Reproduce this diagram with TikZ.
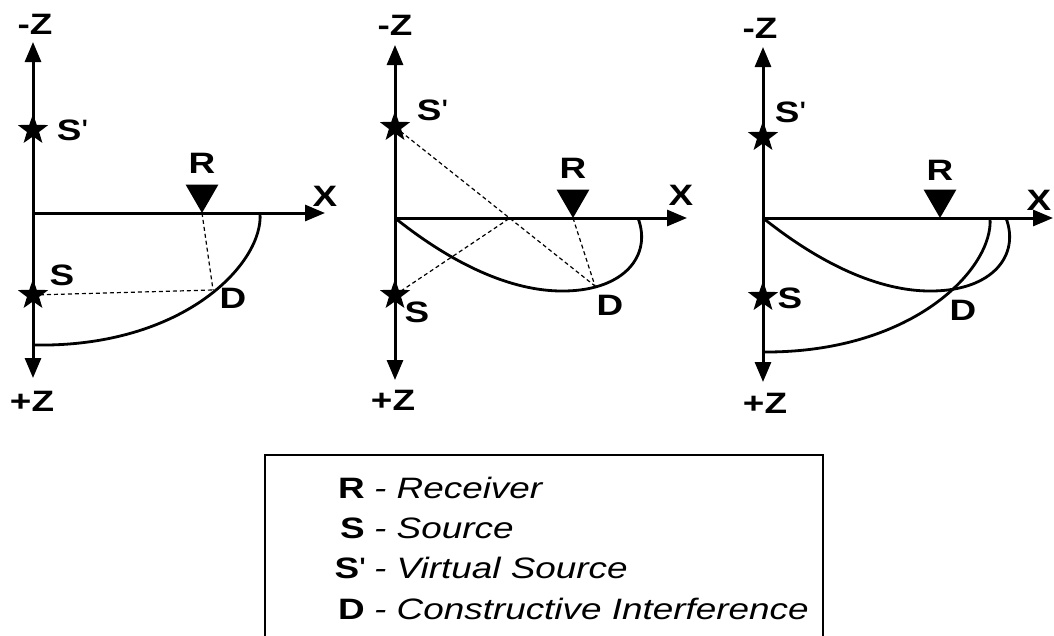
\documentclass[tikz,border=0pt]{standalone}
\usepackage{fontspec}
\newfontfamily\lblfont{Liberation Sans}[FakeStretch=1.25]
\newcommand\lblsize{\fontsize{29.5pt}{31pt}\selectfont}
\usetikzlibrary{arrows.meta,shapes.geometric}
\tikzset{
  >={Triangle[length=20pt,width=16pt]},
  daxis/.style={line width=3pt},
  dwave/.style={line width=2.8pt},
  dray/.style={line width=1.2pt, dash pattern=on 4pt off 3pt},
  dlbl/.style={font=\lblfont\lblsize\bfseries, inner sep=0pt},
  dstar/.style={star, star points=5, star point ratio=2.5, fill=black,
                inner sep=0pt, minimum size=32pt},
  drecv/.style={regular polygon, regular polygon sides=3, shape border rotate=180,
                fill=black, inner sep=0pt, outer sep=0pt, minimum size=38pt, anchor=south},
  dlegsym/.style={font=\lblfont\lblsize\bfseries, inner sep=0pt, anchor=base east},
  dlegtxt/.style={font=\lblfont\lblsize\itshape, inner sep=0pt, anchor=base west},
}

\begin{document}
\begin{tikzpicture}[x=1pt,y=-1pt]
  \useasboundingbox (0,0) rectangle (1054,635);

  % axes: origin, top tip, bottom tip, x tip
  \foreach \p/\ox/\oy/\zt/\zb/\xt in {1/33/213/42/378/325, 2/395/218/45/380/687, 3/763/218/47/382/1053}{
    \coordinate (o\p) at (\ox,\oy);
    \coordinate (zt\p) at (\ox,\zt);
    \coordinate (zb\p) at (\ox,\zb);
    \coordinate (xt\p) at (\xt,\oy);
    \draw[daxis, <->] (zt\p) -- (zb\p);
    \draw[daxis, ->] (o\p) -- (xt\p);
  }

  % panel 1
  \node[dstar] (sv1) at (33,130) {};
  \node[dstar] (s1) at (33,295) {};
  \node[drecv] (r1) at (202,213) {};
  \coordinate (d1) at (213,290);
  \draw[dwave] (260,213) .. controls (264,262) and (185,348) .. (33,345);
  \draw[dray] (r1.south) -- (d1);
  \draw[dray] (s1.center) -- (d1);
  \node[dlbl] (mz1) at (35,24) {-Z};
  \node[dlbl] (pz1) at (32,401) {+Z};
  \node[dlbl] (x1) at (325,196) {X};
  \node[dlbl] (rl1) at (202,163) {R};
  \node[dlbl] (svl1) at (72,130) {S\mdseries\textquotesingle};
  \node[dlbl] (sl1) at (62,275) {S};
  \node[dlbl] (dl1) at (233,298) {D};

  % panel 2
  \node[dstar] (sv2) at (395,127) {};
  \node[dstar] (s2) at (395,295) {};
  \node[drecv] (r2) at (573,218) {};
  \coordinate (d2) at (595,286);
  \coordinate (m2) at (510,218);
  \draw[dwave] (o2) .. controls (450,262) and (510,292) .. (565,291)
                    .. controls (625,290) and (652,255) .. (638,218);
  \draw[dray] (sv2.center) -- (d2);
  \draw[dray] (s2.center) -- (m2);
  \draw[dray] (r2.south) -- (d2);
  \node[dlbl] (mz2) at (395,25) {-Z};
  \node[dlbl] (pz2) at (393,400) {+Z};
  \node[dlbl] (x2) at (681,195) {X};
  \node[dlbl] (rl2) at (573,168) {R};
  \node[dlbl] (svl2) at (432,110) {S\mdseries\textquotesingle};
  \node[dlbl] (sl2) at (417,312) {S};
  \node[dlbl] (dl2) at (610,305) {D};

  % panel 3
  \node[dstar] (sv3) at (763,137) {};
  \node[dstar] (s3) at (763,297) {};
  \node[drecv] (r3) at (940,218) {};
  \draw[dwave] (o3) .. controls (818,262) and (878,292) .. (933,291)
                    .. controls (993,290) and (1020,255) .. (1006,218);
  \draw[dwave] (990,218) .. controls (994,267) and (915,353) .. (763,352);
  \node[dlbl] (mz3) at (760,28) {-Z};
  \node[dlbl] (pz3) at (765,403) {+Z};
  \node[dlbl] (x3) at (1039,200) {X};
  \node[dlbl] (rl3) at (940,170) {R};
  \node[dlbl] (svl3) at (790,112) {S\mdseries\textquotesingle};
  \node[dlbl] (sl3) at (790,298) {S};
  \node[dlbl] (dl3) at (963,310) {D};

  % legend
  \draw[line width=1.5pt] (265,640) |- (823,455) -- (823,640);
  \foreach \sym/\txt/\yy [count=\i] in {R/Receiver/498, S/Source/538,
      {S\mdseries\textquotesingle}/Virtual Source/578, D/Constructive Interference/619}{
    \node[dlegsym] (leg\i) at (365,\yy) {\sym};
    \node[dlegtxt] (legt\i) at (374,\yy) {- \txt};
  }
\end{tikzpicture}
\end{document}
